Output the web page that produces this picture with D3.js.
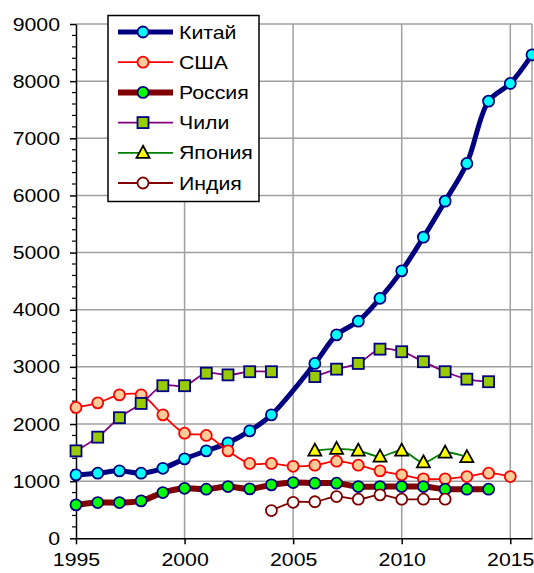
<!DOCTYPE html>
<html><head><meta charset="utf-8">
<script src="https://cdn.jsdelivr.net/npm/d3@7"></script>
<style>body{margin:0;background:#fff}svg{display:block}text{font-family:"Liberation Sans",Arial,sans-serif;fill:#000}</style>
</head><body><svg id="c" width="534" height="573"></svg>
<script>
const years = d3.range(1995, 2017);
const seriesNames = ["Китай","США","Россия","Чили","Япония","Индия"];
const china  = [1110,1140,1180,1140,1225,1390,1530,1670,1880,2160,null,3060,3560,3800,4200,4680,5270,5900,6560,7650,7960,8460];
const usa    = [2290,2370,2510,2510,2160,1840,1800,1530,1310,1310,1260,1280,1350,1280,1180,1110,1040,1040,1080,1140,1080,null];
const russia = [585,625,625,655,800,875,860,905,865,935,975,965,965,905,905,905,905,860,860,860,null,null];
const chile  = [1530,1770,2110,2360,2670,2670,2890,2860,2915,2915,null,2830,2960,3060,3310,3265,3090,2915,2785,2740,null,null];
const japan  = [null,null,null,null,null,null,null,null,null,null,null,1535,1565,1535,1430,1535,1330,1500,1420,null,null,null];
const india  = [null,null,null,null,null,null,null,null,null,485,630,640,730,685,760,685,685,685,null,null,null,null];
const yTicks = d3.range(0, 9001, 1000);
const xTicks = [1995, 2000, 2005, 2010, 2015];

const svg = d3.select("#c");
const L = 76, R = 532, T = 24, B = 538.3;
const x = d3.scaleLinear().domain([1995, 2016]).range([L, R]);
const y = d3.scaleLinear().domain([0, 9000]).range([B, T]);
const FONT = '"Liberation Sans",Arial,sans-serif';

// grid
const g = svg.append("g");
g.selectAll(".hg").data(yTicks.slice(1)).join("line")
  .attr("x1", L).attr("x2", R).attr("y1", d => y(d)).attr("y2", d => y(d))
  .attr("stroke", "#a0a0a0").attr("stroke-width", 1.5);
g.selectAll(".vg").data(xTicks.slice(1).concat([2016])).join("line")
  .attr("y1", T).attr("y2", B).attr("x1", d => x(d)).attr("x2", d => x(d))
  .attr("stroke", "#a0a0a0").attr("stroke-width", 1.5);

const stretch = 1.12;
function stretchText(sel, f) {
  sel.each(function() {
    const n = this.getComputedTextLength();
    d3.select(this).attr("textLength", n * (f || stretch)).attr("lengthAdjust", "spacingAndGlyphs");
  });
}

// y axis
const yAxis = svg.append("g").attr("transform", `translate(${L},0)`)
  .call(d3.axisLeft(y).tickValues(yTicks).tickFormat(d3.format("d")).tickSize(6).tickSizeOuter(0).tickPadding(10));
yAxis.select(".domain").attr("stroke", "#000").attr("stroke-width", 1.5);
yAxis.selectAll(".tick line").attr("stroke", "#000").attr("stroke-width", 1.5);
yAxis.selectAll(".tick text").attr("font-size", 19).attr("font-family", FONT).attr("fill", "#000").call(stretchText);
svg.append("g").selectAll("line").data(d3.range(0, 9001, 200).filter(v => v % 1000 !== 0)).join("line")
  .attr("x1", L - 4).attr("x2", L).attr("y1", d => y(d)).attr("y2", d => y(d))
  .attr("stroke", "#000").attr("stroke-width", 1.2);

// x axis
const xAxis = svg.append("g").attr("transform", `translate(0,${B})`)
  .call(d3.axisBottom(x).tickValues(xTicks).tickFormat(d3.format("d")).tickSize(6).tickSizeOuter(0).tickPadding(8));
xAxis.select(".domain").attr("stroke", "#000").attr("stroke-width", 1.5);
xAxis.selectAll(".tick line").attr("stroke", "#000").attr("stroke-width", 1.5);
xAxis.selectAll(".tick text").attr("font-size", 19).attr("font-family", FONT).attr("fill", "#000").call(stretchText);
xAxis.selectAll(".tick text").each(function(){ const w=+d3.select(this).attr("textLength"); d3.select(this).attr("text-anchor","start").attr("x", -w/2); });

const styles = [
  {line:"#000080", lw:5, marker:"circle", fill:"#00ffff", stroke:"#000080", values:china, connect:true},
  {line:"#ff0000", lw:1.8, marker:"circle", fill:"#ffcc99", stroke:"#ff0000", values:usa},
  {line:"#800000", lw:6, marker:"circle", fill:"#00ff00", stroke:"#000080", values:russia},
  {line:"#800080", lw:1.8, marker:"square", fill:"#99cc00", stroke:"#000080", values:chile},
  {line:"#008000", lw:1.8, marker:"triangle", fill:"#ffff00", stroke:"#000000", values:japan},
  {line:"#800000", lw:1.8, marker:"circle", fill:"#ffffff", stroke:"#800000", values:india}
];

function drawMarker(sel, s, cx, cy) {
  if (s.marker === "circle") {
    sel.append("circle").attr("cx", cx).attr("cy", cy).attr("r", 5.5)
      .attr("fill", s.fill).attr("stroke", s.stroke).attr("stroke-width", 1.8);
  } else if (s.marker === "square") {
    sel.append("rect").attr("x", cx - 5.5).attr("y", cy - 5.5).attr("width", 11).attr("height", 11)
      .attr("fill", s.fill).attr("stroke", s.stroke).attr("stroke-width", 1.8);
  } else {
    sel.append("path").attr("d", `M${cx},${cy-7}L${cx+6.5},${cy+5}L${cx-6.5},${cy+5}Z`)
      .attr("fill", s.fill).attr("stroke", s.stroke).attr("stroke-width", 1.8).attr("stroke-linejoin","miter");
  }
}

styles.forEach(s => {
  const pts = years.map((yr, i) => ({yr, v: s.values[i]}));
  const line = d3.line().x(d => x(d.yr)).y(d => y(d.v)).curve(d3.curveCatmullRom.alpha(0.5));
  const gl = svg.append("g");
  if (s.connect) {
    gl.append("path").attr("d", line(pts.filter(d => d.v != null)));
  } else {
    gl.append("path").attr("d", line.defined(d => d.v != null)(pts));
  }
  gl.select("path").attr("fill", "none").attr("stroke", s.line).attr("stroke-width", s.lw).attr("stroke-linejoin","round");
  const gm = svg.append("g");
  pts.filter(d => d.v != null).forEach(d => drawMarker(gm, s, x(d.yr), y(d.v)));
});

// legend
const lg = svg.append("g");
lg.append("rect").attr("x", 108).attr("y", 15.5).attr("width", 151).attr("height", 186)
  .attr("fill", "#fff").attr("stroke", "#000").attr("stroke-width", 1.5);
styles.forEach((s, i) => {
  const cy = 32 + i * 30.2;
  lg.append("line").attr("x1", 118).attr("x2", 173).attr("y1", cy).attr("y2", cy)
    .attr("stroke", s.line).attr("stroke-width", s.lw);
  drawMarker(lg, s, 143, cy);
  lg.append("text").attr("x", 179).attr("y", cy).attr("dy", "0.36em")
    .attr("font-size", 18.5).text(seriesNames[i]).call(stretchText, 1.15);
});
</script></body></html>
